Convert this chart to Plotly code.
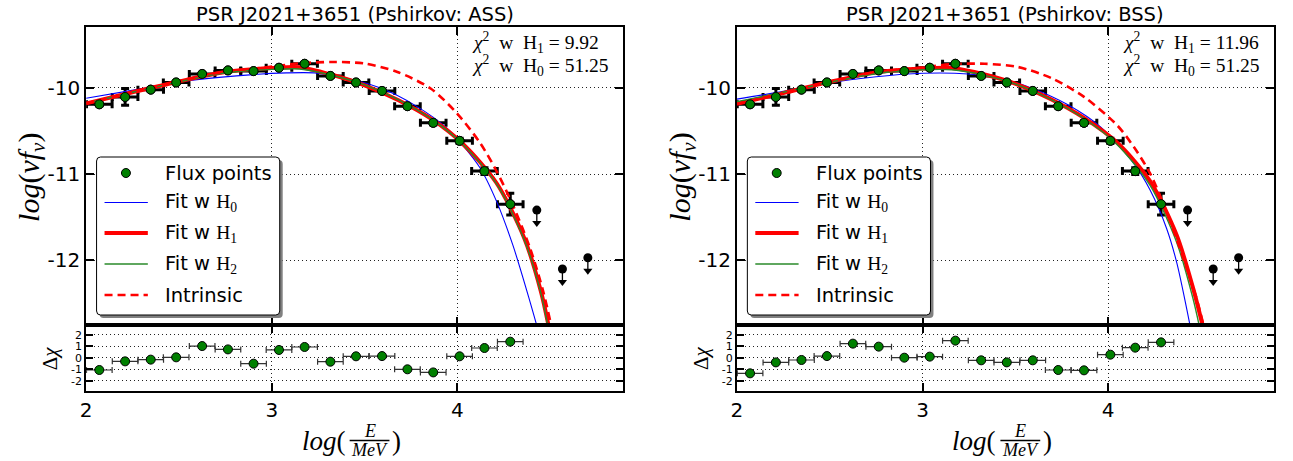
import plotly.graph_objects as go

W, H = 1293, 461

# ---------------- data ----------------
# Fermi-LAT flux points of PSR J2021+3651 (log10 E/MeV, log10 nuFnu)
flux_logE = [2.071, 2.210, 2.348, 2.485, 2.625, 2.764, 2.902, 3.039, 3.177, 3.316,
             3.454, 3.594, 3.731, 3.870, 4.012, 4.146, 4.285]
flux_logF = [-10.19, -10.105, -10.02, -9.937, -9.838, -9.797, -9.805, -9.766, -9.72, -9.861,
             -9.937, -10.035, -10.212, -10.405, -10.614, -10.965, -11.348]
flux_errF = [0.02, 0.097, 0.015, 0.015, 0.015, 0.015, 0.015, 0.015, 0.015, 0.015,
             0.015, 0.02, 0.02, 0.025, 0.03, 0.04, 0.125]
bin_half = [0.069, 0.069, 0.069, 0.069, 0.069, 0.069, 0.069, 0.069, 0.069, 0.069,
            0.069, 0.069, 0.069, 0.069, 0.069, 0.069, 0.069]

# upper limits
ul_logE = [4.428, 4.566, 4.703]
ul_logF = [-11.417, -12.10, -11.97]

# residuals (Delta chi) for the two magnetic-field models
resid_ass = [-1.07, -0.32, -0.17, 0.03, 1.01, 0.72, -0.52, 0.67, 0.93, -0.35,
             0.12, 0.14, -1.01, -1.28, 0.12, 0.84, 1.39]
resid_bss = [-1.36, -0.41, -0.20, 0.14, 1.22, 0.96, 0.00, 0.09, 1.48, -0.23,
             -0.41, -0.23, -1.07, -1.10, 0.26, 0.87, 1.33]

# model curves, ASS
ass_h0_x = [2.0, 2.27, 2.54, 2.81, 3.08, 3.23, 3.41, 3.59, 3.77, 3.945, 4.12, 4.21, 4.30, 4.39, 4.44]
ass_h0_y = [-10.12, -10.02, -9.92, -9.86, -9.826, -9.826, -9.89, -10.005, -10.2, -10.47,
            -10.92, -11.31, -11.83, -12.47, -12.85]
ass_h1_x = [2.0, 2.25, 2.5, 2.75, 3.0, 3.15, 3.32, 3.5, 3.68, 3.86, 4.03, 4.21, 4.36, 4.45, 4.50]
ass_h1_y = [-10.18, -10.05, -9.925, -9.815, -9.77, -9.76, -9.845, -9.97, -10.14, -10.36,
            -10.65, -11.10, -11.74, -12.36, -12.85]
ass_h2_x = [2.0, 2.25, 2.5, 2.75, 3.0, 3.15, 3.32, 3.5, 3.68, 3.86, 4.03, 4.21, 4.36, 4.45, 4.495]
ass_h2_y = [-10.18, -10.05, -9.93, -9.825, -9.785, -9.78, -9.85, -9.965, -10.135, -10.36,
            -10.655, -11.11, -11.76, -12.38, -12.85]
ass_in_x = [2.0, 2.25, 2.5, 2.75, 2.962, 3.141, 3.320, 3.499, 3.677, 3.856, 3.999, 4.124,
            4.213, 4.303, 4.392, 4.463, 4.515]
ass_in_y = [-10.18, -10.05, -9.922, -9.81, -9.764, -9.717, -9.699, -9.717, -9.815, -10.007,
            -10.297, -10.644, -10.973, -11.379, -11.861, -12.364, -12.85]

# model curves, BSS
bss_h0_x = [2.0, 2.25, 2.5, 2.75, 3.0, 3.246, 3.424, 3.603, 3.781, 3.959, 4.138, 4.226, 4.315, 4.37, 4.45]
bss_h0_y = [-10.13, -10.04, -9.94, -9.87, -9.83, -9.838, -9.891, -10.015, -10.193, -10.452,
            -10.876, -11.185, -11.63, -12.03, -12.85]
bss_h1_x = [2.0, 2.25, 2.5, 2.75, 3.0, 3.157, 3.335, 3.513, 3.692, 3.870, 4.048, 4.226, 4.369, 4.458, 4.52]
bss_h1_y = [-10.185, -10.06, -9.93, -9.82, -9.775, -9.77, -9.845, -9.961, -10.131, -10.347,
            -10.633, -11.081, -11.707, -12.325, -12.85]
bss_h2_x = [2.0, 2.25, 2.5, 2.75, 3.0, 3.157, 3.335, 3.513, 3.692, 3.870, 4.048, 4.226, 4.369, 4.458, 4.50]
bss_h2_y = [-10.16, -10.05, -9.935, -9.835, -9.79, -9.79, -9.855, -9.965, -10.135, -10.355,
            -10.655, -11.13, -11.79, -12.45, -12.85]
bss_in_x = [2.0, 2.25, 2.5, 2.75, 2.979, 3.157, 3.335, 3.513, 3.692, 3.870, 4.048, 4.138,
            4.226, 4.315, 4.405, 4.476, 4.525]
bss_in_y = [-10.185, -10.06, -9.928, -9.815, -9.768, -9.725, -9.72, -9.757, -9.884, -10.104,
            -10.432, -10.683, -10.992, -11.437, -11.977, -12.44, -12.85]

titles = ["PSR J2021+3651 (Pshirkov: ASS)", "PSR J2021+3651 (Pshirkov: BSS)"]
chi2_h1 = ["9.92", "11.96"]
chi2_h0 = ["51.25", "51.25"]
legend_labels = ["Flux points", "Fit w H<sub>0</sub>", "Fit w H<sub>1</sub>",
                 "Fit w H<sub>2</sub>", "Intrinsic"]

# ---------------- geometry (pixels) ----------------
PANEL_X0 = [80.5, 734.3]
PANEL_W = 539.5
Y_TOP, Y_SPLIT, Y_BOT = 26.7, 325.0, 390.7

def px(x):
    return x / W

def py(y):
    return 1 - y / H

GREEN = "#008000"
SANS = "DejaVu Sans"
SERIF = "Liberation Serif"

fig = go.Figure()

panels = [
    dict(top=("x", "y"), bot=("x2", "y2"), resid=resid_ass,
         h0=(ass_h0_x, ass_h0_y), h1=(ass_h1_x, ass_h1_y),
         h2=(ass_h2_x, ass_h2_y), intr=(ass_in_x, ass_in_y)),
    dict(top=("x3", "y3"), bot=("x4", "y4"), resid=resid_bss,
         h0=(bss_h0_x, bss_h0_y), h1=(bss_h1_x, bss_h1_y),
         h2=(bss_h2_x, bss_h2_y), intr=(bss_in_x, bss_in_y)),
]

marker_style = dict(size=9, color=GREEN, line=dict(color="black", width=1))

for p in panels:
    xa, ya = p["top"]
    # flux points with error bars
    fig.add_trace(go.Scatter(
        x=flux_logE, y=flux_logF, mode="markers", marker=marker_style,
        error_x=dict(type="data", array=bin_half, thickness=3, width=4, color="black"),
        error_y=dict(type="data", array=flux_errF, thickness=3, width=4, color="black"),
        xaxis=xa, yaxis=ya, showlegend=False, hoverinfo="skip"))
    # fitted models
    fig.add_trace(go.Scatter(x=p["h0"][0], y=p["h0"][1], mode="lines",
                             line=dict(color="#0000ff", width=1.1, shape="spline", smoothing=0.8),
                             xaxis=xa, yaxis=ya, showlegend=False))
    fig.add_trace(go.Scatter(x=p["h1"][0], y=p["h1"][1], mode="lines",
                             line=dict(color="#ff0000", width=4, shape="spline", smoothing=0.8),
                             xaxis=xa, yaxis=ya, showlegend=False))
    fig.add_trace(go.Scatter(x=p["h2"][0], y=p["h2"][1], mode="lines",
                             line=dict(color="#2a8a2a", width=1.4, shape="spline", smoothing=0.8),
                             xaxis=xa, yaxis=ya, showlegend=False))
    fig.add_trace(go.Scatter(x=p["intr"][0], y=p["intr"][1], mode="lines",
                             line=dict(color="#ff0000", width=2.6, dash="8px,5px",
                                       shape="spline", smoothing=0.8),
                             xaxis=xa, yaxis=ya, showlegend=False))
    # point markers on top
    fig.add_trace(go.Scatter(x=flux_logE, y=flux_logF, mode="markers", marker=marker_style,
                             xaxis=xa, yaxis=ya, showlegend=False, hoverinfo="skip"))
    # upper limits: dot + downward arrow
    ux, uy = [], []
    for e, f in zip(ul_logE, ul_logF):
        ux += [e, e, None]
        uy += [f, f - 0.15, None]
    fig.add_trace(go.Scatter(x=ux, y=uy, mode="lines", line=dict(color="black", width=1.3),
                             xaxis=xa, yaxis=ya, showlegend=False, hoverinfo="skip"))
    fig.add_trace(go.Scatter(x=ul_logE, y=[f - 0.15 for f in ul_logF], mode="markers",
                             marker=dict(symbol="triangle-down", size=8, color="black"),
                             xaxis=xa, yaxis=ya, showlegend=False, hoverinfo="skip"))
    fig.add_trace(go.Scatter(x=ul_logE, y=ul_logF, mode="markers",
                             marker=dict(size=9, color="black"),
                             xaxis=xa, yaxis=ya, showlegend=False, hoverinfo="skip"))
    # residuals
    xb, yb = p["bot"]
    fig.add_trace(go.Scatter(
        x=flux_logE, y=p["resid"], mode="markers", marker=marker_style,
        error_x=dict(type="data", array=bin_half, thickness=1.2, width=3, color="#333333"),
        xaxis=xb, yaxis=yb, showlegend=False, hoverinfo="skip"))

axis_common = dict(showline=True, linecolor="black", linewidth=2, mirror="allticks",
                   ticks="inside", ticklen=8, tickwidth=1.6, tickcolor="black",
                   showgrid=True, gridcolor="#222222", gridwidth=1, griddash="1px,3px",
                   zeroline=False, fixedrange=True)

layout_axes = {}
for i, x0 in enumerate(PANEL_X0):
    dom_x = [px(x0), px(x0 + PANEL_W)]
    n_top = 2 * i + 1
    n_bot = 2 * i + 2
    kt = "" if n_top == 1 else str(n_top)
    kb = str(n_bot)
    layout_axes["xaxis" + kt] = dict(axis_common, domain=dom_x, range=[2, 4.893],
                                     anchor="y" + kt, tickvals=[2, 3, 4],
                                     showticklabels=False)
    layout_axes["yaxis" + kt] = dict(axis_common, domain=[py(Y_SPLIT), py(Y_TOP)],
                                     range=[-12.75, -9.29], anchor="x" + kt,
                                     tickvals=[-12, -11, -10], ticktext=["-12", "-11", "-10"],
                                     tickfont=dict(family=SANS, size=20))
    layout_axes["xaxis" + kb] = dict(axis_common, domain=dom_x, range=[2, 4.893],
                                     anchor="y" + kb, tickvals=[2, 3, 4],
                                     ticktext=["2", "3", "4"],
                                     tickfont=dict(family=SANS, size=20))
    layout_axes["yaxis" + kb] = dict(axis_common, domain=[py(Y_BOT), py(Y_SPLIT)],
                                     range=[-2.87, 2.84], anchor="x" + kb, ticklen=7,
                                     tickvals=[-2, -1, 0, 1, 2],
                                     ticktext=["-2", "-1", "0", "1", "2"],
                                     tickfont=dict(family=SANS, size=11))

annotations = []
shapes = []

def rrect(x0, y0, x1, y1, r):
    X = lambda v: px(v)
    Y = lambda v: py(v)
    return (f"M {X(x0 + r)},{Y(y0)} L {X(x1 - r)},{Y(y0)} Q {X(x1)},{Y(y0)} {X(x1)},{Y(y0 + r)} "
            f"L {X(x1)},{Y(y1 - r)} Q {X(x1)},{Y(y1)} {X(x1 - r)},{Y(y1)} "
            f"L {X(x0 + r)},{Y(y1)} Q {X(x0)},{Y(y1)} {X(x0)},{Y(y1 - r)} "
            f"L {X(x0)},{Y(y0 + r)} Q {X(x0)},{Y(y0)} {X(x0 + r)},{Y(y0)} Z")

for i, x0 in enumerate(PANEL_X0):
    off = x0 - PANEL_X0[0]
    cx = x0 + PANEL_W / 2
    # title
    annotations.append(dict(text=titles[i], x=px(cx), y=py(14.5), xref="paper", yref="paper",
                            xanchor="center", yanchor="middle", showarrow=False,
                            font=dict(family=SANS, size=19.5, color="black")))
    # chi-square values
    for row, (lab, val) in enumerate([("1", chi2_h1[i]), ("0", chi2_h0[i])]):
        annotations.append(dict(
            text=f"<i>χ</i><sup>2</sup>  w  H<sub>{lab}</sub> = {val}",
            x=px(466 + off), y=py(42.5 + 23 * row), xref="paper", yref="paper",
            xanchor="left", yanchor="middle", showarrow=False,
            font=dict(family=SERIF, size=19.5, color="black")))
    # y labels
    annotations.append(dict(text="<i>log</i>(<i>νf</i><sub><i>ν</i></sub>)",
                            x=px(24.5 + off), y=py(177.5), xref="paper", yref="paper",
                            xanchor="center", yanchor="middle", textangle=-90, showarrow=False,
                            font=dict(family=SERIF, size=30, color="black")))
    annotations.append(dict(text="Δ<i>χ</i>", x=px(44 + off), y=py(358.5),
                            xref="paper", yref="paper", xanchor="center", yanchor="middle",
                            textangle=-90, showarrow=False,
                            font=dict(family=SERIF, size=21, color="black")))
    # x label: log(E / MeV) as a stacked fraction
    annotations.append(dict(text="<i>log</i>(", x=px(cx - 7), y=py(440.5), xref="paper",
                            yref="paper", xanchor="right", yanchor="middle", showarrow=False,
                            font=dict(family=SERIF, size=27, color="black")))
    annotations.append(dict(text="<i>E</i>", x=px(cx + 15), y=py(431), xref="paper",
                            yref="paper", xanchor="center", yanchor="middle", showarrow=False,
                            font=dict(family=SERIF, size=18, color="black")))
    annotations.append(dict(text="<i>MeV</i>", x=px(cx + 15), y=py(449.5), xref="paper",
                            yref="paper", xanchor="center", yanchor="middle", showarrow=False,
                            font=dict(family=SERIF, size=18, color="black")))
    annotations.append(dict(text=")", x=px(cx + 36), y=py(440.5), xref="paper",
                            yref="paper", xanchor="left", yanchor="middle", showarrow=False,
                            font=dict(family=SERIF, size=27, color="black")))
    shapes.append(dict(type="line", xref="paper", yref="paper", x0=px(cx - 5), x1=px(cx + 35),
                       y0=py(440.5), y1=py(440.5), line=dict(color="black", width=1.5)))

    # legend box with shadow
    bx0, by0, bx1, by1 = 91 + off, 157, 275 + off, 315
    shapes.append(dict(type="path", xref="paper", yref="paper", layer="above",
                       path=rrect(bx0 + 3, by0 + 3, bx1 + 3, by1 + 3, 4),
                       fillcolor="#808080", line=dict(width=0)))
    shapes.append(dict(type="path", xref="paper", yref="paper", layer="above",
                       path=rrect(bx0, by0, bx1, by1, 4),
                       fillcolor="white", line=dict(color="black", width=1)))
    rows = [173, 202.5, 233, 264, 295]
    lx0, lx1, lmid, ltext = 99 + off, 142.5 + off, 120.5 + off, 158 + off
    # sample glyphs
    shapes.append(dict(type="circle", xref="paper", yref="paper", layer="above",
                       x0=px(lmid - 4.5), x1=px(lmid + 4.5), y0=py(rows[0] + 4.5),
                       y1=py(rows[0] - 4.5), fillcolor=GREEN, line=dict(color="black", width=1)))
    samples = [("#0000ff", 1.1, "solid"), ("#ff0000", 4, "solid"),
               ("#2a8a2a", 1.4, "solid"), ("#ff0000", 2.6, "8px,5px")]
    for r, (col, wd, dash) in zip(rows[1:], samples):
        shapes.append(dict(type="line", xref="paper", yref="paper", layer="above",
                           x0=px(lx0), x1=px(lx1), y0=py(r), y1=py(r),
                           line=dict(color=col, width=wd, dash=dash)))
    for r, lab in zip(rows, legend_labels):
        if "H<sub>" in lab:
            head, tail = lab.split("H", 1)
            txt = f"{head}<span style='font-family:{SERIF}'>H{tail}</span>"
        else:
            txt = lab
        annotations.append(dict(text=txt, x=px(ltext), y=py(r), xref="paper", yref="paper",
                                xanchor="left", yanchor="middle", showarrow=False,
                                font=dict(family=SANS, size=19.5, color="black")))

fig.update_layout(
    width=W, height=H, autosize=False,
    margin=dict(l=0, r=0, t=0, b=0),
    paper_bgcolor="white", plot_bgcolor="white",
    font=dict(family=SANS, color="black"),
    showlegend=False,
    annotations=annotations, shapes=shapes,
    **layout_axes,
)

fig.write_html("out.html")
